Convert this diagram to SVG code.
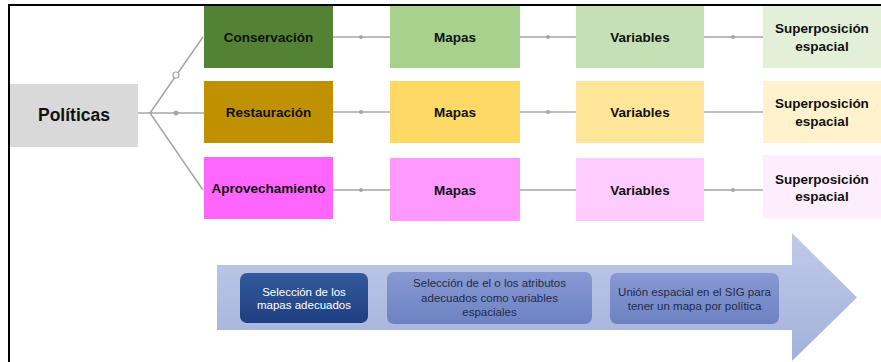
<svg xmlns="http://www.w3.org/2000/svg" width="881" height="362" viewBox="0 0 881 362">
<style>
.lbl{font-family:"Liberation Sans",Arial,sans-serif;font-weight:bold;font-size:13.5px;fill:#111;text-anchor:middle;dominant-baseline:central}
.big{font-size:17.5px}
.step{font-family:"Liberation Sans",Arial,sans-serif;font-size:11.5px;text-anchor:middle;dominant-baseline:central;fill:#1f2b4a}
.white{fill:#ffffff}
.conn{stroke:#a6a6a6;stroke-width:1.5;fill:none}
.dot{fill:#a6a6a6}
</style>
<defs>
<linearGradient id="arrowG" x1="0" y1="0" x2="0" y2="1">
<stop offset="0" stop-color="#c0cbea"/>
<stop offset="1" stop-color="#a3b1da"/>
</linearGradient>
<linearGradient id="darkG" x1="0" y1="0" x2="0" y2="1">
<stop offset="0" stop-color="#335a9c"/>
<stop offset="1" stop-color="#1e3f82"/>
</linearGradient>
<linearGradient id="midG" x1="0" y1="0" x2="0" y2="1">
<stop offset="0" stop-color="#8899d3"/>
<stop offset="1" stop-color="#6d82c3"/>
</linearGradient>
</defs>
<rect x="0" y="0" width="881" height="362" fill="#ffffff"/>

<g id="connectors">
<path class="conn" d="M138,113 H150 M150,113 L203,37 M150,113 H204 M150,113 L203,190"/>
<circle cx="176" cy="75" r="3" fill="#ffffff" stroke="#a6a6a6" stroke-width="1.2"/>
<circle class="dot" cx="176" cy="113" r="2.5"/>
<path class="conn" d="M333,37 H390 M520,37 H576 M704,37 H763"/>
<path class="conn" d="M333,112 H390 M520,112 H576 M704,112 H763"/>
<path class="conn" d="M333,190 H390 M520,190 H576 M704,190 H763"/>
<circle class="dot" cx="361" cy="37" r="2"/>
<circle class="dot" cx="548" cy="37" r="2"/>
<circle class="dot" cx="733" cy="37" r="2"/>
<circle class="dot" cx="361" cy="112" r="2"/>
<circle class="dot" cx="548" cy="112" r="2"/>
<circle class="dot" cx="361" cy="190" r="2"/>
<circle class="dot" cx="733" cy="190" r="2"/>
</g>

<g id="politicas"><rect x="10" y="84" width="128" height="63" fill="#d9d9d9"/><text class="lbl big" x="74" y="115">Políticas</text></g>

<g id="conservacion"><rect x="204" y="6" width="129" height="62" fill="#548235"/><text class="lbl" x="268.5" y="37">Conservación</text></g>
<g id="mapas1"><rect x="390" y="6" width="130" height="62" fill="#a9d18e"/><text class="lbl" x="455" y="37">Mapas</text></g>
<g id="variables1"><rect x="576" y="6" width="128" height="62" fill="#c5e0b4"/><text class="lbl" x="640" y="37">Variables</text></g>
<g id="superposicion1"><rect x="763" y="6" width="122" height="62" fill="#e2f0d9"/><text class="lbl" x="822" y="28">Superposición</text><text class="lbl" x="822" y="46">espacial</text></g>

<g id="restauracion"><rect x="204" y="81" width="129" height="62" fill="#bf9000"/><text class="lbl" x="268.5" y="112">Restauración</text></g>
<g id="mapas2"><rect x="390" y="81" width="130" height="62" fill="#ffd966"/><text class="lbl" x="455" y="112">Mapas</text></g>
<g id="variables2"><rect x="576" y="81" width="128" height="62" fill="#ffe699"/><text class="lbl" x="640" y="112">Variables</text></g>
<g id="superposicion2"><rect x="763" y="81" width="122" height="62" fill="#fff2cc"/><text class="lbl" x="822" y="103">Superposición</text><text class="lbl" x="822" y="121">espacial</text></g>

<g id="aprovechamiento"><rect x="204" y="157" width="129" height="62" fill="#ff66ff"/><text class="lbl" x="268.5" y="188">Aprovechamiento</text></g>
<g id="mapas3"><rect x="390" y="158" width="130" height="63" fill="#ff99ff"/><text class="lbl" x="455" y="190">Mapas</text></g>
<g id="variables3"><rect x="576" y="158" width="128" height="63" fill="#ffccff"/><text class="lbl" x="640" y="190">Variables</text></g>
<g id="superposicion3"><rect x="763" y="155" width="122" height="63" fill="#fdeefd"/><text class="lbl" x="822" y="179">Superposición</text><text class="lbl" x="822" y="196">espacial</text></g>

<g id="process-arrow">
<path d="M217,265 H792 V233 L857,297.5 L792,361 V330 H217 Z" fill="url(#arrowG)"/>
</g>
<g id="step1"><rect x="240" y="273" width="128" height="50" rx="7" fill="url(#darkG)"/><text class="step white" x="304" y="292">Selección de los</text><text class="step white" x="304" y="305">mapas adecuados</text></g>
<g id="step2"><rect x="387" y="272" width="205" height="52" rx="7" fill="url(#midG)"/><text class="step" x="489.5" y="283">Selección de el o los atributos</text><text class="step" x="489.5" y="298">adecuados como variables</text><text class="step" x="489.5" y="312">espaciales</text></g>
<g id="step3"><rect x="610" y="273" width="169" height="51" rx="7" fill="url(#midG)"/><text class="step" x="694.5" y="292">Unión espacial en el SIG para</text><text class="step" x="694.5" y="306">tener un mapa por política</text></g>

<path d="M9,362 V5 H881" fill="none" stroke="#000" stroke-width="2"/>
</svg>
